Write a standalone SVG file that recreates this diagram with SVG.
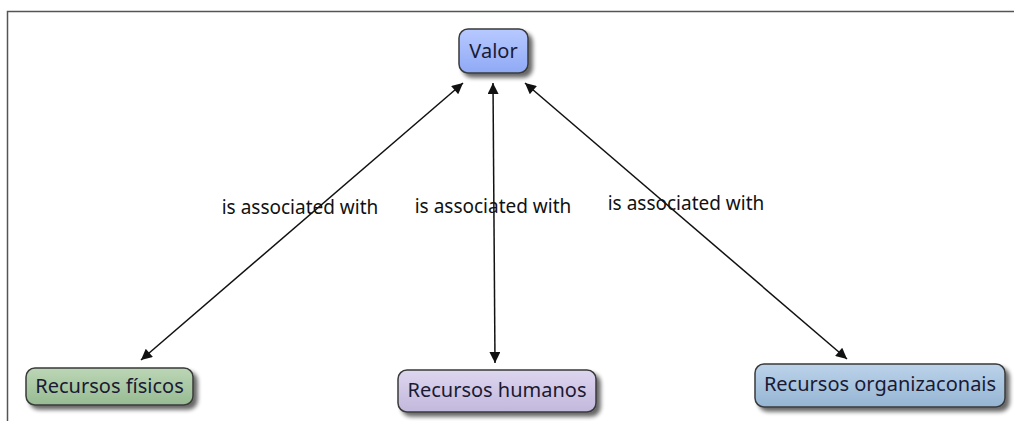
<svg xmlns="http://www.w3.org/2000/svg" width="1014" height="421" viewBox="0 0 1014 421">
<style>
.node{stroke:#3a3a3a;stroke-width:1.5}
.t{font-family:"Noto Sans","DejaVu Sans",sans-serif;font-size:20px;fill:#1a1a33}
.lbl{font-family:"Noto Sans","DejaVu Sans",sans-serif;font-size:19px;fill:#111}
.c{stroke:#111;stroke-width:1.5;fill:none;marker-start:url(#ah);marker-end:url(#ah)}
</style>
<defs>
<marker id="ah" viewBox="0 0 10 10" refX="10" refY="5" markerWidth="14" markerHeight="11" markerUnits="userSpaceOnUse" orient="auto-start-reverse">
<path d="M0,0 L10,5 L0,10 z" fill="#111"/>
</marker>
<filter id="sh" x="-20%" y="-20%" width="150%" height="160%">
<feGaussianBlur in="SourceAlpha" stdDeviation="2"/>
<feOffset dx="4" dy="4"/>
<feComponentTransfer><feFuncA type="linear" slope="0.6"/></feComponentTransfer>
<feMerge><feMergeNode/><feMergeNode in="SourceGraphic"/></feMerge>
</filter>
<linearGradient id="gb" x1="0" y1="0" x2="0" y2="1"><stop offset="0" stop-color="#b7c9ff"/><stop offset="1" stop-color="#8fa9f5"/></linearGradient>
<linearGradient id="gg" x1="0" y1="0" x2="0" y2="1"><stop offset="0" stop-color="#bcd6b6"/><stop offset="1" stop-color="#97bb92"/></linearGradient>
<linearGradient id="gp" x1="0" y1="0" x2="0" y2="1"><stop offset="0" stop-color="#ddd6ef"/><stop offset="1" stop-color="#c2b8dc"/></linearGradient>
<linearGradient id="go" x1="0" y1="0" x2="0" y2="1"><stop offset="0" stop-color="#bcd3ea"/><stop offset="1" stop-color="#95b5d3"/></linearGradient>
</defs>
<rect x="0" y="0" width="1014" height="421" fill="#fff"/>
<path d="M7.5,421 V11.5 H1014" fill="none" stroke="#555" stroke-width="1.5"/>
<g id="connectors">
<line class="c" x1="463" y1="83" x2="141" y2="360"/>
<line class="c" x1="493" y1="83" x2="495" y2="363"/>
<line class="c" x1="525" y1="83" x2="847" y2="359"/>
<text class="lbl" x="300" y="214" text-anchor="middle">is associated with</text>
<text class="lbl" x="493" y="213" text-anchor="middle">is associated with</text>
<text class="lbl" x="686" y="210" text-anchor="middle">is associated with</text>
</g>
<g id="valor">
<rect class="node" x="459" y="29" width="69" height="44" rx="9" fill="url(#gb)" filter="url(#sh)"/>
<text class="t" x="493.5" y="58" text-anchor="middle">Valor</text>
</g>
<g id="fisicos">
<rect class="node" x="26" y="368" width="167" height="37" rx="9" fill="url(#gg)" filter="url(#sh)"/>
<text class="t" x="109.5" y="393" text-anchor="middle">Recursos físicos</text>
</g>
<g id="humanos">
<rect class="node" x="398" y="370" width="198" height="42" rx="9" fill="url(#gp)" filter="url(#sh)"/>
<text class="t" x="497" y="397" text-anchor="middle">Recursos humanos</text>
</g>
<g id="organizaconais">
<rect class="node" x="755" y="364" width="250" height="43" rx="9" fill="url(#go)" filter="url(#sh)"/>
<text class="t" x="880" y="391" text-anchor="middle">Recursos organizaconais</text>
</g>
</svg>
